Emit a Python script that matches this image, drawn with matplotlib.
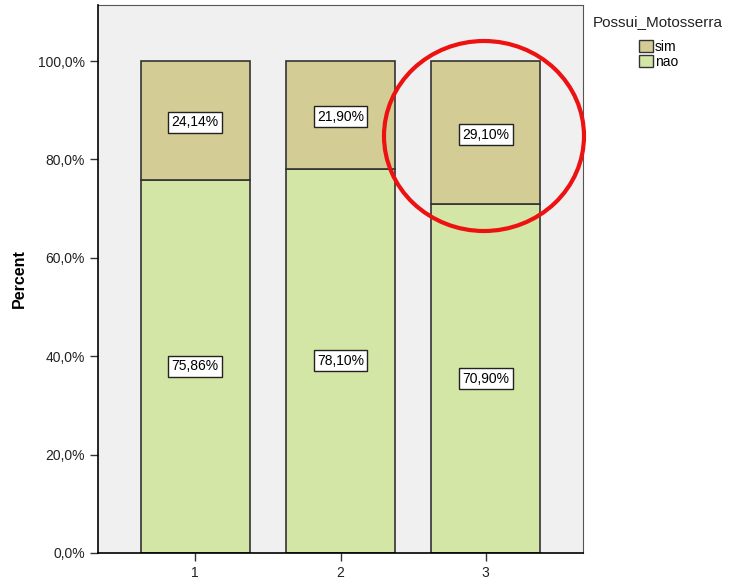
import matplotlib
matplotlib.use("Agg")
from matplotlib import pyplot as plt
from matplotlib.patches import Ellipse, Patch
from matplotlib.ticker import FuncFormatter

categorias = ["1", "2", "3"]
nao = [75.86, 78.10, 70.90]
sim = [24.14, 21.90, 29.10]
yticks = [0, 20, 40, 60, 80, 100]

cor_sim = "#d3cc95"
cor_nao = "#d4e6a5"

fig = plt.figure(figsize=(7.35, 5.8), dpi=100)
ax = fig.add_axes([98 / 735, 27 / 580, 485 / 735, 548 / 580])
ax.set_facecolor("#f0f0f0")

x = list(range(1, len(categorias) + 1))
ax.bar(x, nao, width=0.75, color=cor_nao, edgecolor="#333333", linewidth=1.2)
ax.bar(x, sim, width=0.75, bottom=nao, color=cor_sim, edgecolor="#333333", linewidth=1.2)

caixa = dict(boxstyle="square,pad=0.25", fc="white", ec="#222222", lw=1)
for xi, n, s in zip(x, nao, sim):
    ax.text(xi, n / 2, f"{n:.2f}%".replace(".", ","), ha="center", va="center",
            fontsize=10, family="Liberation Sans", bbox=caixa)
    ax.text(xi, n + s / 2 - 0.4, f"{s:.2f}%".replace(".", ","), ha="center", va="center",
            fontsize=10, family="Liberation Sans", bbox=caixa)

ax.set_xlim(1 - 0.67, 3 + 0.67)
ax.set_ylim(0, 111.4)
ax.set_xticks(x)
ax.set_xticklabels(categorias)
ax.set_yticks(yticks)
ax.yaxis.set_major_formatter(FuncFormatter(lambda v, p: f"{v:.1f}%".replace(".", ",")))
for lbl in ax.get_xticklabels() + ax.get_yticklabels():
    lbl.set_family("Liberation Sans")
    lbl.set_fontsize(10)
    lbl.set_color("#222222")
ax.tick_params(direction="out", length=6, width=1, color="#333333")
for s in ["top", "right"]:
    ax.spines[s].set_visible(False)
ax.spines["left"].set_linewidth(1.2)
ax.spines["bottom"].set_linewidth(1.2)
# moldura fina do grafico
ax.plot([1, 1], [0, 1], transform=ax.transAxes, color="#555555", lw=0.8, clip_on=False)
ax.plot([0, 1], [1, 1], transform=ax.transAxes, color="#555555", lw=0.8, clip_on=False)
ax.set_ylabel("Percent", fontsize=11.5, fontweight="bold", family="Liberation Sans", labelpad=8)

handles = [Patch(facecolor=cor_sim, edgecolor="#333333", label="sim"),
           Patch(facecolor=cor_nao, edgecolor="#333333", label="nao")]
fig.text(593 / 735, 1 - 22 / 580, "Possui_Motosserra", fontsize=11,
         family="Liberation Sans", va="center", color="#222222")
leg = fig.legend(handles=handles, loc="upper left", bbox_to_anchor=(639 / 735, 1 - 40 / 580),
                 frameon=False, handlelength=1.0, handleheight=1.0, handletextpad=0.15,
                 labelspacing=0.05, borderpad=0, borderaxespad=0,
                 prop={"family": "Liberation Sans", "size": 10})

circ = Ellipse((484 / 735, 1 - 136 / 580), 200 / 735, 190 / 580, transform=fig.transFigure,
               fill=False, edgecolor="#ee1111", linewidth=3)
fig.patches.append(circ)

fig.savefig("out.png", dpi=100)
